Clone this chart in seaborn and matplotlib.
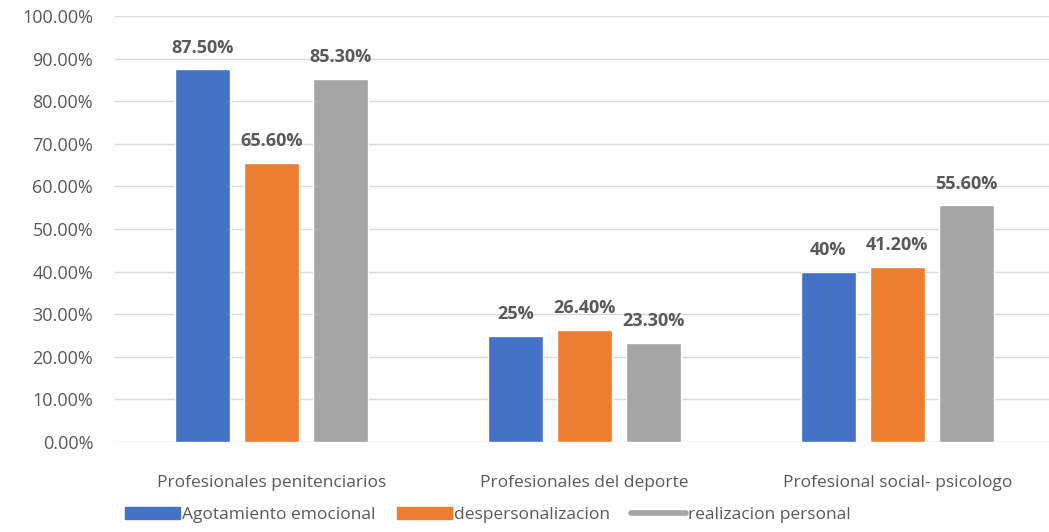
import numpy as np
import pandas as pd
import matplotlib
matplotlib.use('Agg')
from matplotlib import pyplot as plt
from matplotlib.ticker import PercentFormatter
from matplotlib.patches import Patch
from matplotlib.lines import Line2D
import seaborn as sns

categories = ['Profesionales penitenciarios', 'Profesionales del deporte', 'Profesional social- psicologo']
series = ['Agotamiento emocional', 'despersonalizacion', 'realizacion personal']
agotamiento = [0.875, 0.25, 0.40]
despersonalizacion = [0.656, 0.264, 0.412]
realizacion = [0.853, 0.233, 0.556]
value_labels = [['87.50%', '25%', '40%'],
                ['65.60%', '26.40%', '41.20%'],
                ['85.30%', '23.30%', '55.60%']]
colors = ['#4472C4', '#ED7D31', '#A5A5A5']

rows = []
for s, vals in zip(series, [agotamiento, despersonalizacion, realizacion]):
    for c, v in zip(categories, vals):
        rows.append({'categoria': c, 'serie': s, 'valor': v})
df = pd.DataFrame(rows)

sns.set_style('white')
plt.rcParams['font.family'] = ['Open Sans', 'DejaVu Sans']

fig = plt.figure(figsize=(10.49, 5.32), dpi=100)
ax = fig.add_axes([0.11, 0.169, 0.89, 0.801])

sns.barplot(data=df, x='categoria', y='valor', hue='serie', order=categories, hue_order=series,
            palette=colors, width=0.66, gap=0.2, saturation=1, ax=ax, legend=False)

for container, labels in zip(ax.containers, value_labels):
    ax.bar_label(container, labels=labels, padding=9, fontsize=13, fontweight='bold', color='#595959')

ax.set_ylim(0, 1.0)
ax.set_yticks(np.arange(0, 1.01, 0.1))
ax.yaxis.set_major_formatter(PercentFormatter(1.0, decimals=2))
ax.set_xlim(-0.5, 2.485)
ax.grid(axis='y', color='#D9D9D9', linewidth=1)
ax.set_axisbelow(True)
for sp in ax.spines.values():
    sp.set_visible(False)
ax.set_xlabel('')
ax.set_ylabel('')
ax.tick_params(axis='both', length=0, labelcolor='#595959')
ax.tick_params(axis='y', pad=16, labelsize=13)
ax.tick_params(axis='x', pad=24, labelsize=12.5)

handles = [Patch(color=colors[0]), Patch(color=colors[1]),
           Line2D([0], [0], color=colors[2], linewidth=4)]
fig.legend(handles, series, loc='lower center', bbox_to_anchor=(0.465, -0.012), ncol=3, frameon=False,
           fontsize=12.5, labelcolor='#595959', handlelength=3.2, handletextpad=0.1, columnspacing=1.2)

plt.savefig('out.png', dpi=100)
